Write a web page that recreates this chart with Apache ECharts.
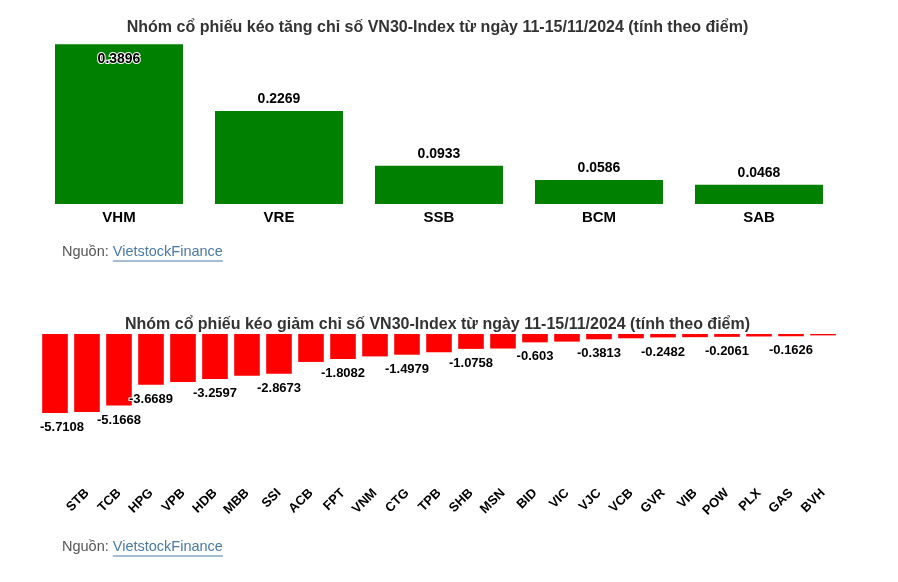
<!DOCTYPE html>
<html><head><meta charset="utf-8">
<script src="https://cdn.jsdelivr.net/npm/echarts@6/dist/echarts.min.js"></script>
<style>html,body{margin:0;padding:0;background:#fff}#c{width:898px;height:582px}</style>
</head><body><div id="c"></div>
<script>
const topTitle = 'Nhóm cổ phiếu kéo tăng chỉ số VN30-Index từ ngày 11-15/11/2024 (tính theo điểm)';
const bottomTitle = 'Nhóm cổ phiếu kéo giảm chỉ số VN30-Index từ ngày 11-15/11/2024 (tính theo điểm)';
const gainCategories = ['VHM', 'VRE', 'SSB', 'BCM', 'SAB'];
const gainValues = [0.3896, 0.2269, 0.0933, 0.0586, 0.0468];
const lossCategories = ['MWG', 'STB', 'TCB', 'HPG', 'VPB', 'HDB', 'MBB', 'SSI', 'ACB', 'FPT', 'VNM', 'CTG', 'TPB',
  'SHB', 'MSN', 'BID', 'VIC', 'VJC', 'VCB', 'GVR', 'VIB', 'POW', 'PLX', 'GAS', 'BVH'];
const lossValues = [-5.7108, -5.63, -5.1668, -3.6689, -3.47, -3.2597, -3.02, -2.8673, -2.02, -1.8082, -1.62, -1.4979, -1.32,
  -1.0758, -1.05, -0.603, -0.55, -0.3813, -0.31, -0.2482, -0.23, -0.2061, -0.18, -0.1626, -0.1];
const sourcePrefix = 'Nguồn: ';
const sourceName = 'VietstockFinance';

const FONT = '"Liberation Sans", Arial, sans-serif';
const chart = echarts.init(document.getElementById('c'), null, {renderer: 'canvas'});

const ctx = document.createElement('canvas').getContext('2d');
ctx.font = '14.5px ' + FONT;
const prefixW = ctx.measureText(sourcePrefix).width;
const nameW = ctx.measureText(sourceName).width;

function sourceGraphic(y) {
  const x0 = 62;
  return [
    {type: 'text', left: x0, top: y - 9, silent: true,
      style: {text: sourcePrefix, fill: '#555', font: '14.5px ' + FONT}},
    {type: 'text', left: x0 + prefixW, top: y - 9, silent: true,
      style: {text: sourceName, fill: '#4a7aa5', font: '14.5px ' + FONT}},
    {type: 'line', silent: true,
      shape: {x1: x0 + prefixW, y1: y + 8, x2: x0 + prefixW + nameW, y2: y + 8},
      style: {stroke: '#4a7aa5', lineWidth: 1}}
  ];
}

function titleGraphic(text, y) {
  return {type: 'text', x: 437.5, y: y, silent: true,
    style: {text: text, fill: '#333', font: 'bold 16px ' + FONT, textAlign: 'center', textVerticalAlign: 'middle'}};
}

const labelBase = {show: true, fontFamily: FONT, fontWeight: 'bold', color: '#000',
  textBorderColor: '#fff', textBorderWidth: 2};

chart.setOption({
  backgroundColor: '#fff',
  animation: false,
  grid: [
    {left: 39, width: 800, top: 40, height: 164},
    {left: 39, width: 800, top: 334, height: 83}
  ],
  xAxis: [
    {type: 'category', gridIndex: 0, data: gainCategories,
      axisLine: {show: false}, axisTick: {show: false},
      axisLabel: {fontFamily: FONT, fontSize: 15, fontWeight: 'bold', color: '#000', margin: 6}},
    {type: 'category', gridIndex: 1, data: lossCategories,
      axisLine: {show: false}, axisTick: {show: false},
      axisLabel: {fontFamily: FONT, fontSize: 13, fontWeight: 'bold', color: '#000', margin: 74, rotate: 45,
        interval: function (i) { return i !== 0; }}}
  ],
  yAxis: [
    {type: 'value', gridIndex: 0, min: 0, max: 0.4, show: false, splitLine: {show: false}},
    {type: 'value', gridIndex: 1, min: -6, max: 0, show: false, splitLine: {show: false}}
  ],
  series: [
    {type: 'bar', xAxisIndex: 0, yAxisIndex: 0, barCategoryGap: '20%',
      itemStyle: {color: '#008000'},
      label: Object.assign({}, labelBase, {position: 'top', distance: 5, fontSize: 14}),
      data: gainValues.map(function (v, i) {
        return i === 0 ? {value: v, label: {position: 'insideTop', distance: 8}} : v;
      })},
    {type: 'bar', xAxisIndex: 1, yAxisIndex: 1, barCategoryGap: '20%',
      itemStyle: {color: '#ff0000'},
      label: Object.assign({}, labelBase, {position: 'bottom', distance: 8, fontSize: 13}),
      labelLayout: function (p) {
        return {hideOverlap: true, dx: p.dataIndex === 0 ? 7 : 0};
      },
      data: lossValues}
  ],
  graphic: [titleGraphic(topTitle, 28), titleGraphic(bottomTitle, 325)]
    .concat(sourceGraphic(253)).concat(sourceGraphic(548))
});
</script>
</body></html>
